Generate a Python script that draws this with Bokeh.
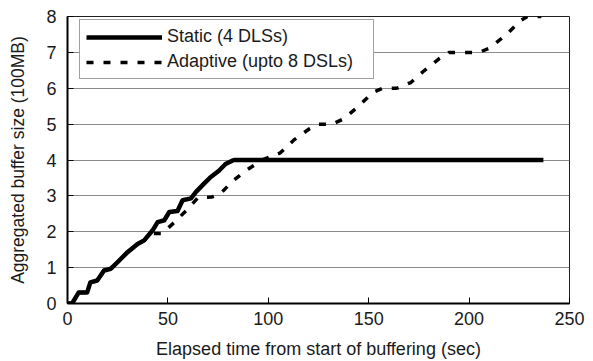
from bokeh.plotting import figure
from bokeh.models import Legend, LegendItem, FixedTicker, Range1d
from bokeh.embed import file_html
from bokeh.resources import INLINE

# Static (4 DLSs)
static_x = [0, 2.3, 5.6, 9.8, 11.4, 14.8, 18.2, 21.6, 24.9, 29.9, 34.9, 38.2,
            42.4, 44.9, 48.2, 50.7, 54.8, 57.3, 61.5, 64, 68, 71.2, 75.4, 78.7,
            82, 83, 237]
static_y = [0, 0, 0.31, 0.31, 0.59, 0.64, 0.92, 0.97, 1.15, 1.43, 1.66, 1.76,
            2.04, 2.27, 2.32, 2.55, 2.58, 2.88, 2.93, 3.11, 3.34, 3.52, 3.7, 3.89,
            3.98, 4.0, 4.0]

# Adaptive (upto 8 DSLs)
adapt_x = [0, 2.3, 5.6, 9.8, 11.4, 14.8, 18.2, 21.6, 24.9, 29.9, 34.9, 38.2,
           42, 47, 53, 60, 65, 72, 76, 82, 89.5, 97, 106, 113, 120.5, 125, 132,
           137.5, 145, 152, 157, 164, 171, 177, 185, 190, 205, 210.5, 219,
           225.5, 229, 236]
adapt_y = [0, 0, 0.31, 0.31, 0.59, 0.64, 0.92, 0.97, 1.15, 1.43, 1.66, 1.76,
           1.95, 1.95, 2.25, 2.64, 2.95, 2.97, 3.05, 3.4, 3.73, 4.0, 4.2, 4.57,
           4.87, 5.0, 5.0, 5.15, 5.5, 5.88, 6.0, 6.0, 6.16, 6.46, 6.82, 7.0, 7.0,
           7.13, 7.52, 7.88, 8.0, 8.0]

x_ticks = [0, 50, 100, 150, 200, 250]
y_ticks = [0, 1, 2, 3, 4, 5, 6, 7, 8]

FONT = "Liberation Sans"
TXT = "#1a1a1a"

p = figure(width=593, height=361, output_backend="svg", toolbar_location=None,
           x_range=Range1d(0, 250), y_range=Range1d(0, 8),
           min_border_left=67, min_border_right=24, min_border_top=16,
           min_border_bottom=58)

p.outline_line_color = "#202020"
p.outline_line_width = 1
p.background_fill_color = "white"

p.xgrid.visible = False
p.ygrid.grid_line_color = "#8a8a8a"
p.ygrid.grid_line_width = 1
p.ygrid.ticker = FixedTicker(ticks=y_ticks)

p.xaxis.ticker = FixedTicker(ticks=x_ticks)
p.yaxis.ticker = FixedTicker(ticks=y_ticks)

for ax in (p.xaxis[0], p.yaxis[0]):
    ax.axis_line_color = "black"
    ax.axis_line_width = 2
    ax.major_tick_line_color = "black"
    ax.major_tick_in = 6
    ax.major_tick_out = 0
    ax.minor_tick_line_color = None
    ax.major_label_text_font = FONT
    ax.major_label_text_font_size = "18px"
    ax.major_label_text_color = TXT
    ax.axis_label_text_font = FONT
    ax.axis_label_text_font_style = "normal"
    ax.axis_label_text_color = TXT

p.xaxis.axis_label = "Elapsed time from start of buffering (sec)"
p.xaxis.axis_label_text_font_size = "18px"
p.xaxis.major_label_standoff = 8
p.xaxis.axis_label_standoff = 11

p.yaxis.axis_label = "Aggregated buffer size (100MB)"
p.yaxis.axis_label_text_font_size = "17.5px"
p.yaxis.major_label_standoff = 11
p.yaxis.axis_label_standoff = 15

r_static = p.line(static_x, static_y, line_color="black", line_width=4.5,
                  line_join="round", line_cap="butt")
r_adapt = p.line(adapt_x, adapt_y, line_color="black", line_width=3.5,
                 line_dash="7 10")

legend = Legend(items=[LegendItem(label="Static (4 DLSs)", renderers=[r_static]),
                       LegendItem(label="Adaptive (upto 8 DSLs)", renderers=[r_adapt])],
                location=(12, 224))
legend.padding = 6
legend.spacing = 4
legend.margin = 0
legend.glyph_width = 76
legend.glyph_height = 20
legend.label_height = 20
legend.label_width = 200
legend.label_standoff = 5
legend.label_text_font = FONT
legend.label_text_font_size = "18px"
legend.label_text_color = TXT
legend.border_line_color = "#404040"
legend.border_line_width = 1
legend.background_fill_color = "white"
legend.background_fill_alpha = 1.0
p.add_layout(legend, "center")

open("out.html", "w").write(file_html(p, INLINE))
